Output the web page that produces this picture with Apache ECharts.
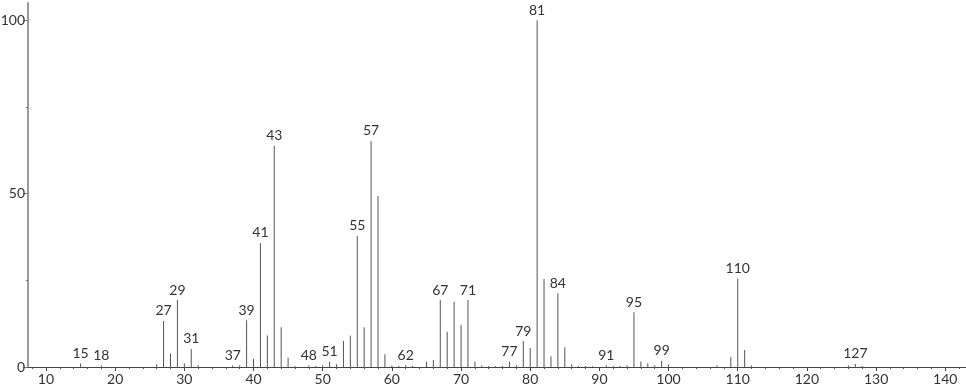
<!DOCTYPE html>
<html>
<head>
<meta charset="utf-8">
<script src="https://cdn.jsdelivr.net/npm/echarts@6/dist/echarts.min.js"></script>
<style>html,body{margin:0;padding:0;background:#fff}#c{width:966px;height:389px}</style>
</head>
<body>
<div id="c"></div>
<script>
var mz = [15,18,26,27,28,29,30,31,32,37,38,39,40,41,42,43,44,45,46,48,49,50,51,52,53,54,55,56,57,58,59,60,61,62,63,65,66,67,68,69,70,71,72,73,74,75,76,77,78,79,80,81,82,83,84,85,86,87,88,89,91,92,93,94,95,96,97,98,99,100,107,109,110,111,112,126,127,128];
var intensity = [1.0,0.4,0.8,13.3,3.9,19.3,1.1,5.2,0.5,0.4,0.5,13.5,2.3,35.8,9.1,63.8,11.5,2.7,0.3,0.4,0.3,0.5,1.5,0.8,7.5,9.1,37.8,11.5,65.2,49.3,3.7,0.4,0.3,0.5,0.3,1.5,2.0,19.3,10.2,18.8,12.1,19.3,1.5,0.4,0.3,0.3,0.3,1.5,0.5,7.5,5.5,100,25.4,3.1,21.3,5.7,0.8,0.3,0.3,0.2,0.5,0.3,0.3,0.5,15.8,1.6,1.1,0.5,1.8,0.7,0.4,2.9,25.5,4.9,0.4,0.4,0.9,0.3];
var labeledPeaks = [15,18,27,29,31,37,39,41,43,48,51,55,57,62,67,71,77,79,81,84,91,95,99,110,127];
var xMajorTicks = [10,20,30,40,50,60,70,80,90,100,110,120,130,140];
var xMinorTicks = [8,12,14,16,18,22,24,26,28,32,34,36,38,42,44,46,48,52,54,56,58,62,64,66,68,72,74,76,78,82,84,86,88,92,94,96,98,102,104,106,108,112,114,116,118,122,124,126,128,132,134,136,138,142];
var yMajorTicks = [0,50,100];
var yMinorTicks = [25,75];

var data = mz.map(function(m,i){
  var item = {value:[m,intensity[i]]};
  if (labeledPeaks.indexOf(m) >= 0) item.label = {show:true};
  return item;
});

var font = 'Lato';
var chart = echarts.init(document.getElementById('c'));
chart.setOption({
  animation:false,
  grid:{left:28,right:0,top:3,bottom:22,containLabel:false,outerBoundsMode:'none'},
  xAxis:[{
    type:'value',min:7.4,max:143,position:'bottom',
    axisLine:{show:true,lineStyle:{color:'#444',width:1}},
    axisTick:{show:true,customValues:xMajorTicks,length:4,lineStyle:{color:'#444'}},
    axisLabel:{show:true,customValues:xMajorTicks,color:'#333',fontSize:14,fontFamily:font,margin:5},
    splitLine:{show:false}
  },{
    type:'value',min:7.4,max:143,position:'bottom',
    axisLine:{show:false},
    axisTick:{show:true,customValues:xMinorTicks,length:2,lineStyle:{color:'#555'}},
    axisLabel:{show:false},
    splitLine:{show:false}
  }],
  yAxis:[{
    type:'value',min:0,max:105,position:'left',
    axisLine:{show:true,lineStyle:{color:'#999',width:2}},
    axisTick:{show:true,customValues:yMajorTicks,length:5,lineStyle:{color:'#777'}},
    axisLabel:{show:true,customValues:yMajorTicks,color:'#333',fontSize:14,fontFamily:font,margin:3},
    splitLine:{show:false}
  },{
    type:'value',min:0,max:105,position:'left',
    axisLine:{show:false},
    axisTick:{show:true,customValues:yMinorTicks,length:2,lineStyle:{color:'#777'}},
    axisLabel:{show:false},
    splitLine:{show:false}
  }],
  series:[{
    type:'bar',xAxisIndex:0,yAxisIndex:0,
    barWidth:1,
    itemStyle:{color:'#555'},
    label:{show:false,position:'top',distance:3,color:'#333',fontSize:14,fontFamily:font,
      formatter:function(p){return p.value[0];}},
    data:data
  }]
});
</script>
</body>
</html>
